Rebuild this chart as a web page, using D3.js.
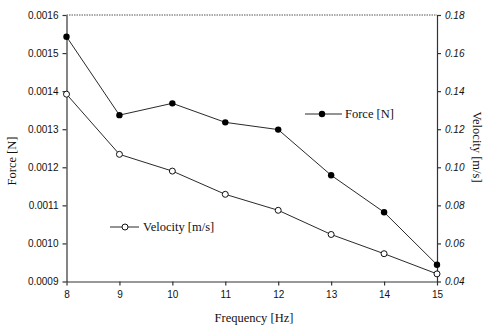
<!DOCTYPE html>
<html>
<head>
<meta charset="utf-8">
<script src="https://cdn.jsdelivr.net/npm/d3@7"></script>
<style>
  body { margin: 0; background: #fff; }
  svg { display: block; }
</style>
</head>
<body>
<div id="chart"></div>
<script>
// data
const frequency = [8, 9, 10, 11, 12, 13, 14, 15];
const force = [0.001543, 0.001337, 0.001368, 0.001318, 0.001299, 0.001179, 0.001082, 0.000944];
const velocity = [0.1384, 0.1068, 0.0980, 0.0858, 0.0774, 0.0647, 0.0546, 0.0440];
const forceTicks = [0.0009, 0.0010, 0.0011, 0.0012, 0.0013, 0.0014, 0.0015, 0.0016];
const velocityTicks = [0.04, 0.06, 0.08, 0.10, 0.12, 0.14, 0.16, 0.18];

const W = 485, H = 327;
const plotLeft = 66.5, plotRight = 437, plotTop = 15, plotBottom = 281.5;

const svg = d3.select("#chart").append("svg")
    .attr("width", W)
    .attr("height", H);

const x = d3.scaleLinear().domain([8, 15]).range([plotLeft, plotRight]);
const yF = d3.scaleLinear().domain([0.0009, 0.0016]).range([plotBottom, plotTop]);
const yV = d3.scaleLinear().domain([0.04, 0.18]).range([plotBottom, plotTop]);

const axisColor = "#333";
const sans = "'Liberation Sans', Arial, sans-serif";
const serif = "'Liberation Serif', 'Times New Roman', serif";

// top border (dotted in the scan)
svg.append("line")
    .attr("x1", plotLeft).attr("x2", plotRight)
    .attr("y1", plotTop).attr("y2", plotTop)
    .attr("stroke", "#555")
    .attr("stroke-width", 1)
    .attr("stroke-dasharray", "1.5,1");

// bottom axis
const gx = svg.append("g")
    .attr("transform", "translate(0," + plotBottom + ")")
    .call(d3.axisBottom(x).tickValues(frequency).tickFormat(d3.format("d")).tickSize(4).tickSizeOuter(0).tickPadding(5));

// left axis
const gl = svg.append("g")
    .attr("transform", "translate(" + plotLeft + ",0)")
    .call(d3.axisLeft(yF).tickValues(forceTicks).tickFormat(d3.format(".4f")).tickSize(4).tickSizeOuter(0).tickPadding(4));

// right axis
const gr = svg.append("g")
    .attr("transform", "translate(" + plotRight + ",0)")
    .call(d3.axisRight(yV).tickValues(velocityTicks).tickFormat(d3.format(".2f")).tickSize(4).tickSizeOuter(0).tickPadding(4));

[gx, gl, gr].forEach(g => {
    g.selectAll("path, line").attr("stroke", axisColor).attr("stroke-width", 1.2);
    g.selectAll("text")
        .attr("fill", "#111")
        .style("font-family", sans)
        .style("font-size", "10px");
});
gr.selectAll("text").style("font-style", "italic");

// axis titles
svg.append("text")
    .attr("transform", "translate(16," + 161 + ") rotate(-90)")
    .attr("text-anchor", "middle")
    .style("font-family", serif)
    .style("font-size", "12.5px")
    .attr("fill", "#111")
    .text("Force [N]");

svg.append("text")
    .attr("transform", "translate(473," + 147 + ") rotate(90)")
    .attr("text-anchor", "middle")
    .style("font-family", serif)
    .style("font-size", "12.5px")
    .attr("fill", "#111")
    .text("Velocity [m/s]");

svg.append("text")
    .attr("x", 254)
    .attr("y", 322)
    .attr("text-anchor", "middle")
    .style("font-family", serif)
    .style("font-size", "12.5px")
    .attr("fill", "#111")
    .text("Frequency [Hz]");

// series
const rows = frequency.map((f, i) => ({ f: f, force: force[i], velocity: velocity[i] }));

const forceLine = d3.line().x(d => x(d.f)).y(d => yF(d.force));
const velLine = d3.line().x(d => x(d.f)).y(d => yV(d.velocity));

svg.append("path")
    .datum(rows)
    .attr("d", forceLine)
    .attr("fill", "none")
    .attr("stroke", "#111")
    .attr("stroke-width", 0.9);

svg.append("path")
    .datum(rows)
    .attr("d", velLine)
    .attr("fill", "none")
    .attr("stroke", "#111")
    .attr("stroke-width", 0.9);

svg.append("g")
    .selectAll("circle")
    .data(rows)
    .join("circle")
    .attr("cx", d => x(d.f))
    .attr("cy", d => yF(d.force))
    .attr("r", 3.2)
    .attr("fill", "#000");

svg.append("g")
    .selectAll("circle")
    .data(rows)
    .join("circle")
    .attr("cx", d => x(d.f))
    .attr("cy", d => yV(d.velocity))
    .attr("r", 3)
    .attr("fill", "#fff")
    .attr("stroke", "#111")
    .attr("stroke-width", 1);

// legends
const legends = [
    { label: "Force [N]", x: 305, y: 114, filled: true },
    { label: "Velocity [m/s]", x: 110, y: 227, filled: false }
];

const lg = svg.append("g")
    .selectAll("g")
    .data(legends)
    .join("g")
    .attr("transform", d => "translate(" + d.x + "," + d.y + ")");

lg.append("line")
    .attr("x1", 0).attr("x2", d => d.filled ? 37 : 29)
    .attr("y1", 0).attr("y2", 0)
    .attr("stroke", "#111")
    .attr("stroke-width", 0.9);

lg.append("circle")
    .attr("cx", d => d.filled ? 17 : 15)
    .attr("cy", 0)
    .attr("r", d => d.filled ? 3.2 : 3)
    .attr("fill", d => d.filled ? "#000" : "#fff")
    .attr("stroke", "#111")
    .attr("stroke-width", d => d.filled ? 0 : 1);

lg.append("text")
    .attr("x", d => d.filled ? 40 : 33)
    .attr("y", 4)
    .style("font-family", serif)
    .style("font-size", "12.5px")
    .attr("fill", "#111")
    .text(d => d.label);
</script>
</body>
</html>
